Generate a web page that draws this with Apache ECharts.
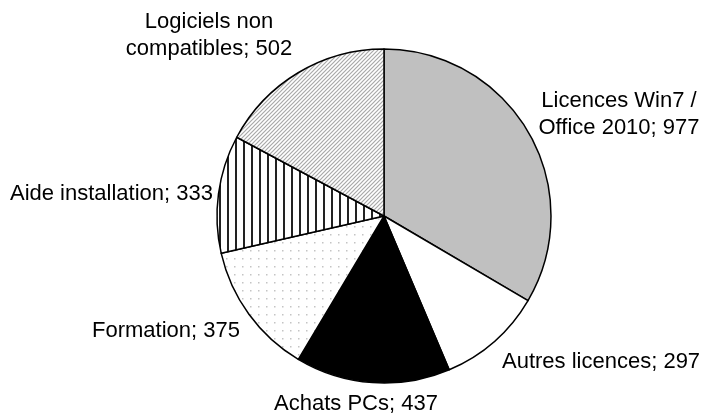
<!DOCTYPE html>
<html>
<head>
<meta charset="utf-8">
<script src="https://cdn.jsdelivr.net/npm/echarts@6/dist/echarts.min.js"></script>
<style>
  html, body { margin: 0; padding: 0; background: #fff; }
  #main { width: 702px; height: 414px; }
</style>
</head>
<body>
<div id="main"></div>
<script>
// donnees du camembert
var categories = ['Licences Win7 /\nOffice 2010', 'Autres licences', 'Achats PCs', 'Formation', 'Aide installation', 'Logiciels non\ncompatibles'];
var values = [977, 297, 437, 375, 333, 502];

// motifs de remplissage (style Excel noir et blanc)
function tile(w, h, draw) {
  var c = document.createElement('canvas');
  c.width = w; c.height = h;
  var ctx = c.getContext('2d');
  ctx.fillStyle = '#fff';
  ctx.fillRect(0, 0, w, h);
  draw(ctx);
  return { image: c, repeat: 'repeat' };
}
var dots = tile(8, 8, function (ctx) {
  ctx.fillStyle = '#c4c4c4';
  ctx.fillRect(2, 2, 1.5, 1.5);
});
var vlines = tile(8, 8, function (ctx) {
  ctx.fillStyle = '#222';
  ctx.fillRect(3, 0, 2, 8);
});
var diag = tile(4, 4, function (ctx) {
  ctx.strokeStyle = '#a8a8a8';
  ctx.lineWidth = 1.2;
  ctx.beginPath();
  ctx.moveTo(-1, 5); ctx.lineTo(5, -1);
  ctx.moveTo(-1, 1); ctx.lineTo(1, -1);
  ctx.moveTo(3, 5); ctx.lineTo(5, 3);
  ctx.stroke();
});
var fills = ['#c0c0c0', '#ffffff', '#000000', dots, vlines, diag];

// position des etiquettes (comme dans Excel)
var labelPos = [
  { x: 619, y: 114, align: 'center' },
  { x: 502, y: 362, align: 'left' },
  { x: 356, y: 404, align: 'center' },
  { x: 240, y: 331, align: 'right' },
  { x: 213, y: 194, align: 'right' },
  { x: 209, y: 35, align: 'center' }
];

var seriesData = [];
for (var i = 0; i < values.length; i++) {
  seriesData.push({ name: categories[i], value: values[i], itemStyle: { color: fills[i] } });
}

var chart = echarts.init(document.getElementById('main'));
chart.setOption({
  animation: false,
  backgroundColor: '#fff',
  series: [{
    type: 'pie',
    center: [384, 216],
    radius: 167,
    startAngle: 90,
    clockwise: true,
    itemStyle: { borderColor: '#000', borderWidth: 1.5 },
    label: {
      show: true,
      position: 'outside',
      formatter: '{b}; {c}',
      fontFamily: 'Liberation Sans, Arial, sans-serif',
      fontSize: 22,
      lineHeight: 27,
      color: '#000',
      align: 'center',
      overflow: 'none'
    },
    labelLine: { show: false },
    labelLayout: function (p) {
      var l = labelPos[p.dataIndex];
      return { x: l.x, y: l.y, align: l.align, verticalAlign: 'middle' };
    },
    emphasis: { disabled: true },
    data: seriesData
  }]
});
</script>
</body>
</html>
